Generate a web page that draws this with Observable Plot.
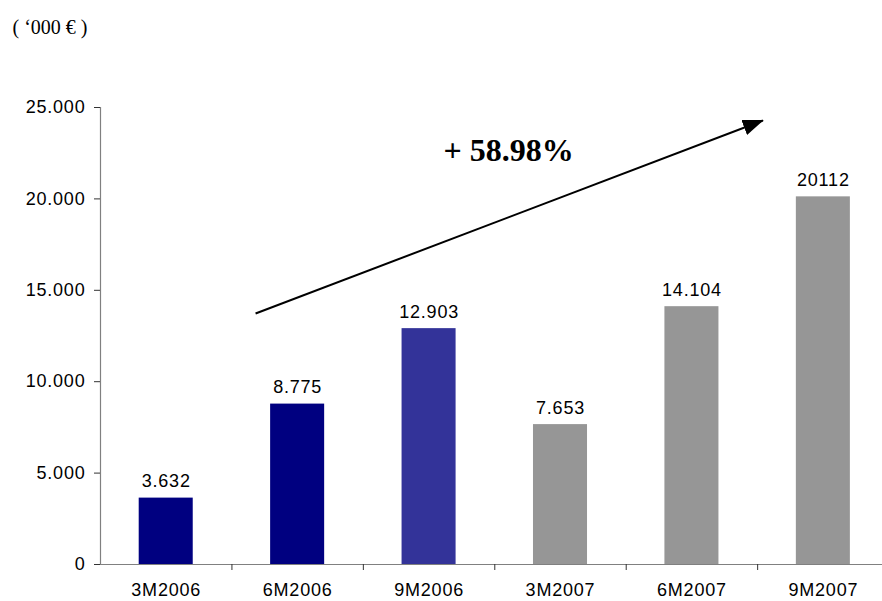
<!DOCTYPE html>
<html><head><meta charset="utf-8">
<script src="https://cdn.jsdelivr.net/npm/d3@7"></script>
<script src="https://cdn.jsdelivr.net/npm/@observablehq/plot@0.6"></script>
<style>body{margin:0;background:#fff;} svg{display:block;}</style>
</head><body><div id="chart"></div>
<script>
const categories = ["3M2006","6M2006","9M2006","3M2007","6M2007","9M2007"];
const values = [3632, 8775, 12903, 7653, 14104, 20112];
const valueLabels = ["3.632","8.775","12.903","7.653","14.104","20112"];
const barColors = ["#000080","#000080","#333399","#969696","#969696","#969696"];
const yTicks = [0,5000,10000,15000,20000,25000];
const yTickLabels = ["0","5.000","10.000","15.000","20.000","25.000"];
const unitLabel = "( \u2018000 \u20ac )";
const growthLabel = "+ 58.98%";
// annotation positions in data space (category index units, value units)
const arrowFrom = {x: 1.18, y: 13730};
const arrowTo = {x: 5.04, y: 24290};
const growthAt = {x: 2.61, y: 22100};

const rows = categories.map((c, i) => ({cat: c, i, v: values[i], label: valueLabels[i], color: barColors[i]}));
const sans = "'Liberation Sans', Arial, sans-serif";
const serif = "'Liberation Serif', 'Times New Roman', serif";

const plot = Plot.plot({
  width: 882, height: 601,
  marginLeft: 100, marginRight: 0, marginTop: 107, marginBottom: 37,
  style: {fontFamily: sans, fontSize: "18px", color: "#000", background: "#fff", overflow: "visible"},
  x: {type: "linear", domain: [0, 5.95], axis: null},
  y: {domain: [0, 25000], axis: null},
  marks: [
    Plot.rectY(rows, {x1: d => d.i, x2: d => d.i + 1, y: "v", fill: d => d.color, insetLeft: 38.7, insetRight: 38.7}),
    Plot.ruleY([0], {stroke: "#808080", strokeWidth: 1.2}),
    Plot.ruleX([0], {stroke: "#808080", strokeWidth: 1.2}),
    Plot.axisY({ticks: yTicks, tickFormat: d => yTickLabels[yTicks.indexOf(d)], tickSize: 6, tickPadding: 9, fontSize: 18, stroke: "#333", label: null, className: "yax"}),
    Plot.axisX({ticks: [1,2,3,4,5], tickFormat: () => "", tickSize: 6, stroke: "#333", label: null}),
    Plot.text(rows, {x: d => d.i + 0.5, y: 0, text: "cat", lineAnchor: "top", dy: 19, fontSize: 18, fill: "#000", className: "spaced"}),
    Plot.text(rows, {x: d => d.i + 0.5, y: "v", text: "label", lineAnchor: "bottom", dy: -11, fontSize: 18, fill: "#000", className: "spaced"}),
    Plot.link([arrowFrom], {x1: "x", y1: "y", x2: () => arrowTo.x, y2: () => arrowTo.y, stroke: "#000", strokeWidth: 2}),
    Plot.text([growthAt], {x: "x", y: "y", text: () => growthLabel, textAnchor: "start", lineAnchor: "bottom", fontFamily: serif, fontWeight: "bold", fontSize: 32, fill: "#000"}),
    Plot.text([unitLabel], {frameAnchor: "top-left", dx: -88, dy: -74, lineAnchor: "bottom", textAnchor: "start", fontFamily: serif, fontSize: 20, fill: "#000"})
  ]
});

const svg = d3.select(plot);
svg.selectAll(".spaced text, .yax text").style("letter-spacing", "0.8px");
const defs = svg.insert("defs", ":first-child");
defs.append("marker").attr("id", "arrowhead").attr("markerUnits", "userSpaceOnUse")
  .attr("markerWidth", 22).attr("markerHeight", 18).attr("refX", 20).attr("refY", 8)
  .attr("orient", "auto").append("path").attr("d", "M0,0L21,8L0,16Z").attr("fill", "#000");
svg.selectAll("g[aria-label=link] path").attr("marker-end", "url(#arrowhead)");

document.getElementById("chart").appendChild(plot);
</script></body></html>
